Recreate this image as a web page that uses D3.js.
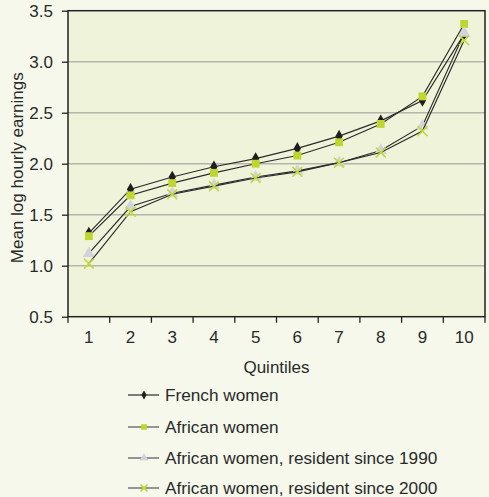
<!DOCTYPE html>
<html>
<head>
<meta charset="utf-8">
<script src="https://cdn.jsdelivr.net/npm/d3@7"></script>
<style>
  html, body { margin: 0; padding: 0; background: #f5f8eb; }
  svg { display: block; font-family: "Liberation Sans", Arial, sans-serif; }
</style>
</head>
<body>
<svg id="chart" width="489" height="497"></svg>
<script>
// Quintile categories
const quintiles = ["1", "2", "3", "4", "5", "6", "7", "8", "9", "10"];

// Mean log hourly earnings per quintile
const frenchWomen   = [1.32, 1.75, 1.87, 1.97, 2.05, 2.15, 2.27, 2.42, 2.62, 3.27];
const africanWomen  = [1.29, 1.69, 1.81, 1.91, 2.00, 2.08, 2.21, 2.39, 2.66, 3.37];
const africanSince1990 = [1.12, 1.58, 1.71, 1.79, 1.87, 1.93, 2.01, 2.13, 2.37, 3.28];
const africanSince2000 = [1.02, 1.53, 1.70, 1.78, 1.86, 1.92, 2.01, 2.11, 2.32, 3.21];

const seriesNames = [
  "French women",
  "African women",
  "African women, resident since 1990",
  "African women, resident since 2000"
];
const yTicks = [0.5, 1.0, 1.5, 2.0, 2.5, 3.0, 3.5];

const series = [
  { name: seriesNames[0], values: frenchWomen, symbol: "diamond", color: "#1e1e1e" },
  { name: seriesNames[1], values: africanWomen, symbol: "square", color: "#bfd630" },
  { name: seriesNames[2], values: africanSince1990, symbol: "triangle", color: "#d3d3dc" },
  { name: seriesNames[3], values: africanSince2000, symbol: "cross", color: "#c2d83a" }
];

const svg = d3.select("#chart");
const plot = { left: 68, right: 485, top: 10.7, bottom: 316.7 };

const x = d3.scaleBand().domain(quintiles).range([plot.left, plot.right]);
const y = d3.scaleLinear().domain([0.5, 3.5]).range([plot.bottom, plot.top]);

// plot background
svg.append("rect")
  .attr("x", plot.left).attr("y", plot.top)
  .attr("width", plot.right - plot.left).attr("height", plot.bottom - plot.top)
  .attr("fill", "#eff3d9");

// horizontal gridlines
svg.append("g").selectAll("line")
  .data(yTicks.filter(v => v > 0.5 && v < 3.5))
  .join("line")
  .attr("x1", plot.left).attr("x2", plot.right)
  .attr("y1", d => y(d)).attr("y2", d => y(d))
  .attr("stroke", "#b4b5ab").attr("stroke-width", 1.4);

// y axis
const yAxis = svg.append("g")
  .attr("transform", `translate(${plot.left},0)`)
  .call(d3.axisLeft(y).tickValues(yTicks).tickFormat(d3.format(".1f")).tickSize(6).tickPadding(9));
yAxis.select(".domain").remove();
yAxis.selectAll(".tick line").attr("stroke", "#222").attr("stroke-width", 1.3);
yAxis.selectAll("text").attr("font-size", 17).attr("fill", "#2a2a2a");

// x axis labels at category centres
const xAxis = svg.append("g")
  .attr("transform", `translate(0,${plot.bottom})`)
  .call(d3.axisBottom(x).tickSize(0).tickPadding(14));
xAxis.select(".domain").remove();
xAxis.selectAll("text").attr("font-size", 17).attr("fill", "#2a2a2a");

// x tick marks at category boundaries
const edges = quintiles.map(q => x(q)).concat([x(quintiles[quintiles.length - 1]) + x.bandwidth()]);
svg.append("g").selectAll("line")
  .data(edges)
  .join("line")
  .attr("x1", d => d).attr("x2", d => d)
  .attr("y1", plot.bottom).attr("y2", plot.bottom + 6)
  .attr("stroke", "#222").attr("stroke-width", 1.3);

// plot frame
svg.append("rect")
  .attr("x", plot.left).attr("y", plot.top)
  .attr("width", plot.right - plot.left).attr("height", plot.bottom - plot.top)
  .attr("fill", "none").attr("stroke", "#222").attr("stroke-width", 1.5);

// axis titles
svg.append("text")
  .attr("x", (plot.left + plot.right) / 2).attr("y", 373)
  .attr("text-anchor", "middle").attr("font-size", 17).attr("fill", "#2a2a2a")
  .text("Quintiles");
svg.append("text")
  .attr("transform", `translate(23,${(plot.top + plot.bottom) / 2 + 4}) rotate(-90)`)
  .attr("text-anchor", "middle").attr("font-size", 17).attr("fill", "#2a2a2a")
  .text("Mean log hourly earnings");

// marker drawing
function drawMarker(g, s, size) {
  if (s.symbol === "diamond") {
    g.append("path").attr("d", d3.symbol(d3.symbolDiamond, size * 4.6)()).attr("fill", s.color);
  } else if (s.symbol === "square") {
    g.append("path").attr("d", d3.symbol(d3.symbolSquare, size * 6.2)()).attr("fill", s.color);
  } else if (s.symbol === "triangle") {
    g.append("path").attr("d", d3.symbol(d3.symbolTriangle, size * 6.5)()).attr("fill", s.color);
  } else {
    g.append("path").attr("d", d3.symbol(d3.symbolX, size * 6.5)())
      .attr("fill", "none").attr("stroke", s.color).attr("stroke-width", 1.6);
  }
}

const line = d3.line()
  .x((d, i) => x(quintiles[i]) + x.bandwidth() / 2)
  .y(d => y(d));

series.forEach(s => {
  svg.append("path")
    .datum(s.values)
    .attr("d", line)
    .attr("fill", "none").attr("stroke", "#2b2b2b").attr("stroke-width", 1.15);
  s.values.forEach((v, i) => {
    const g = svg.append("g")
      .attr("transform", `translate(${x(quintiles[i]) + x.bandwidth() / 2},${y(v)})`);
    drawMarker(g, s, 10);
  });
});

// legend
const legendRows = [395, 427, 458, 488];
series.forEach((s, i) => {
  const g = svg.append("g").attr("transform", `translate(0,${legendRows[i]})`);
  g.append("line").attr("x1", 128).attr("x2", 159).attr("y1", 0).attr("y2", 0)
    .attr("stroke", i === 0 ? "#2b2b2b" : "#555").attr("stroke-width", 1.2);
  const m = g.append("g").attr("transform", "translate(144,0)");
  drawMarker(m, s, 5);
  g.append("text").attr("x", 165).attr("y", 6)
    .attr("font-size", 17.2).attr("fill", "#2a2a2a")
    .text(s.name);
});
</script>
</body>
</html>
